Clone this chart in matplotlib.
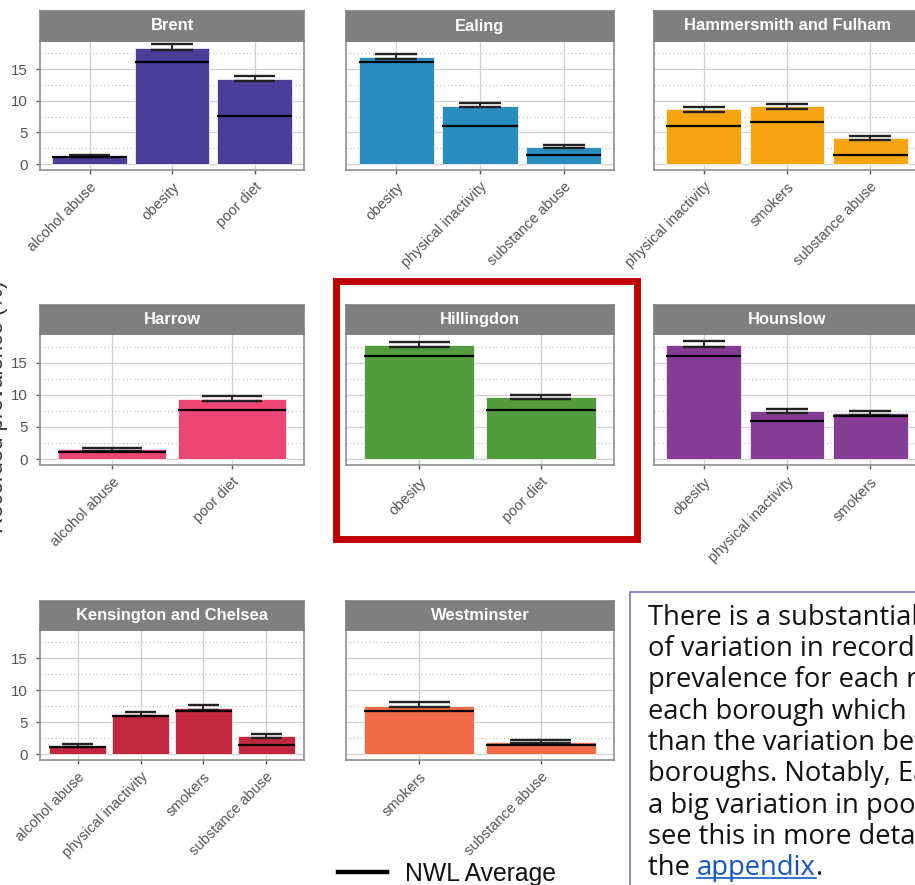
import matplotlib
matplotlib.use("Agg")
import matplotlib.pyplot as plt
from matplotlib.patches import Rectangle
from matplotlib.lines import Line2D

# ---- data: recorded prevalence (%) by borough and risk factor ----
boroughs = ["Brent", "Ealing", "Hammersmith and Fulham",
            "Harrow", "Hillingdon", "Hounslow",
            "Kensington and Chelsea", "Westminster"]

brent_factors = ["alcohol abuse", "obesity", "poor diet"]
brent_prev = [1.2, 18.4, 13.5]
brent_lo = [1.05, 18.1, 13.2]
brent_hi = [1.4, 18.9, 13.95]

ealing_factors = ["obesity", "physical inactivity", "substance abuse"]
ealing_prev = [16.95, 9.2, 2.77]
ealing_lo = [16.6, 8.95, 2.55]
ealing_hi = [17.45, 9.6, 2.95]

hamfu_factors = ["physical inactivity", "smokers", "substance abuse"]
hamfu_prev = [8.65, 9.2, 4.2]
hamfu_lo = [8.2, 8.75, 3.8]
hamfu_hi = [9.05, 9.55, 4.5]

harrow_factors = ["alcohol abuse", "poor diet"]
harrow_prev = [1.5, 9.4]
harrow_lo = [1.3, 9.0]
harrow_hi = [1.7, 9.75]

hillingdon_factors = ["obesity", "poor diet"]
hillingdon_prev = [17.7, 9.6]
hillingdon_lo = [17.4, 9.4]
hillingdon_hi = [18.2, 9.95]

hounslow_factors = ["obesity", "physical inactivity", "smokers"]
hounslow_prev = [17.75, 7.45, 7.1]
hounslow_lo = [17.4, 7.1, 6.8]
hounslow_hi = [18.3, 7.8, 7.5]

kenchel_factors = ["alcohol abuse", "physical inactivity", "smokers", "substance abuse"]
kenchel_prev = [1.26, 6.27, 7.3, 2.84]
kenchel_lo = [1.1, 5.95, 6.95, 2.5]
kenchel_hi = [1.5, 6.6, 7.7, 3.1]

westminster_factors = ["smokers", "substance abuse"]
westminster_prev = [7.6, 1.9]
westminster_lo = [7.35, 1.68]
westminster_hi = [8.15, 2.2]

# NWL average for each risk factor
nwl_factors = ["alcohol abuse", "obesity", "poor diet",
               "physical inactivity", "smokers", "substance abuse"]
nwl_avg = [1.05, 16.1, 7.6, 5.95, 6.72, 1.45]

y_ticks = [0, 5, 10, 15]

borough_colors = ["#4A3E98", "#2A8DC0", "#F6A410", "#EE4677",
                  "#529B3E", "#843C95", "#C1283F", "#F16B46"]

panels = [
    (brent_factors, brent_prev, brent_lo, brent_hi),
    (ealing_factors, ealing_prev, ealing_lo, ealing_hi),
    (hamfu_factors, hamfu_prev, hamfu_lo, hamfu_hi),
    (harrow_factors, harrow_prev, harrow_lo, harrow_hi),
    (hillingdon_factors, hillingdon_prev, hillingdon_lo, hillingdon_hi),
    (hounslow_factors, hounslow_prev, hounslow_lo, hounslow_hi),
    (kenchel_factors, kenchel_prev, kenchel_lo, kenchel_hi),
    (westminster_factors, westminster_prev, westminster_lo, westminster_hi),
]
nwl_lookup = dict(zip(nwl_factors, nwl_avg))

# ---- layout (pixels) ----
W, H = 915, 885
plt.rcParams["font.family"] = ["Liberation Sans", "DejaVu Sans"]
fig = plt.figure(figsize=(W / 100, H / 100), dpi=100)


def fbox(x0, y0, x1, y1):
    return [x0 / W, 1 - y1 / H, (x1 - x0) / W, (y1 - y0) / H]


col_x = [(40, 304), (346, 614), (654, 920)]
row_y = [(11, 41, 170), (305, 334, 465), (601, 630, 760)]

tick_grey = "#555555"
border_grey = "#8F8F8F"
strip_grey = "#7F7F7F"

for i, (name, (facs, prev, lo, hi)) in enumerate(zip(boroughs, panels)):
    r, c = divmod(i, 3)
    x0, x1 = col_x[c]
    st, pt, pb = row_y[r]

    ax = fig.add_axes(fbox(x0, pt, x1, pb))
    n = len(facs)
    xs = list(range(1, n + 1))

    ax.set_axisbelow(True)
    ax.bar(xs, prev, width=0.9, color=borough_colors[i],
           edgecolor="#FFFFFF", linewidth=0.5, zorder=2)
    ax.vlines(xs, lo, hi, color="#1A1A1A", lw=1.3, zorder=3)
    ax.hlines(lo, [x - 0.25 for x in xs], [x + 0.25 for x in xs],
              color="#222222", lw=1.7, zorder=3)
    ax.hlines(hi, [x - 0.25 for x in xs], [x + 0.25 for x in xs],
              color="#222222", lw=1.7, zorder=3)
    avg = [nwl_lookup[f] for f in facs]
    ax.hlines(avg, [x - 0.45 for x in xs], [x + 0.45 for x in xs],
              color="black", lw=1.6, zorder=4)

    ax.set_xlim(0.4, n + 0.6)
    ax.set_ylim(-0.93, 19.45)

    ax.set_yticks(y_ticks)
    ax.set_yticks([2.5, 7.5, 12.5, 17.5], minor=True)
    ax.grid(which="major", color="#D0D0D0", lw=0.9)
    ax.grid(which="minor", axis="y", color="#C4C4C4", lw=0.9,
            linestyle=(0, (1, 2)))
    ax.tick_params(which="minor", length=0)

    ax.set_xticks(xs)
    ax.set_xticklabels(facs, rotation=45, ha="right", va="top",
                       rotation_mode="anchor", fontsize=10.5, color=tick_grey)
    ax.tick_params(axis="x", length=3, width=1, color=tick_grey, pad=4)
    if c == 0:
        ax.tick_params(axis="y", length=3, width=1, color=tick_grey, pad=6,
                       labelsize=10.8, labelcolor=tick_grey)
    else:
        ax.tick_params(axis="y", length=0, labelleft=False)

    for sp in ax.spines.values():
        sp.set_color(border_grey)
        sp.set_linewidth(1.2)

    # facet strip
    sx = fig.add_axes(fbox(x0, st, x1, pt))
    sx.set_facecolor(strip_grey)
    sx.set_xticks([])
    sx.set_yticks([])
    for sp in sx.spines.values():
        sp.set_color(strip_grey)
        sp.set_linewidth(1.2)
    sx.text(0.5, 0.5, name, transform=sx.transAxes, ha="center", va="center",
            color="white", fontsize=11.9, fontweight="bold")

# shared y-axis title (partly off the left edge)
fig.text(8 / W, 1 - 407 / H, "Recorded prevalence (%)", rotation=90,
         ha="right", va="center", fontsize=16, color="#333333")

# highlight around Hillingdon
fig.add_artist(Rectangle((335.5 / W, 1 - 538.5 / H), 301 / W, 258 / H,
                         transform=fig.transFigure, fill=False,
                         edgecolor="#C00000", linewidth=5.0))

# commentary box
note_font = ["Open Sans", "DejaVu Sans"]
note_size = 19.7
fig.add_artist(Rectangle((630 / W, -0.05), 400 / W, (1 - 592 / H) + 0.05,
                         transform=fig.transFigure, fill=False,
                         edgecolor="#6A6AC8", linewidth=1.1))
note_lines = ["There is a substantial amount",
              "of variation in recorded",
              "prevalence for each risk factor in",
              "each borough which is greater",
              "than the variation between",
              "boroughs. Notably, Ealing has",
              "a big variation in poor diet. We",
              "see this in more detail in"]
base0, step = 625, 31.25
for k, line in enumerate(note_lines):
    fig.text(648 / W, 1 - (base0 + k * step) / H, line, ha="left",
             va="baseline", fontsize=note_size, color="#111111",
             family=note_font)

renderer = fig.canvas.get_renderer()
yb = 1 - (base0 + 8 * step) / H
t1 = fig.text(648 / W, yb, "the ", ha="left", va="baseline",
              fontsize=note_size, color="#111111", family=note_font)
bb1 = t1.get_window_extent(renderer)
t2 = fig.text(bb1.x1 / W, yb, "appendix", ha="left", va="baseline",
              fontsize=note_size, color="#1155CC", family=note_font)
bb2 = t2.get_window_extent(renderer)
fig.add_artist(Line2D([bb2.x0 / W, bb2.x1 / W], [yb - 3 / H, yb - 3 / H],
                      transform=fig.transFigure, color="#1155CC", lw=1.2))
fig.text(bb2.x1 / W, yb, ".", ha="left", va="baseline",
         fontsize=note_size, color="#111111", family=note_font)

# legend for the NWL average line
fig.legend(handles=[Line2D([], [], color="black", lw=3.2)],
           labels=["NWL Average"], loc="center left",
           bbox_to_anchor=(338 / W, 1 - 874 / H), frameon=False,
           fontsize=17.8, handlelength=2.0, handletextpad=0.7,
           borderpad=0, borderaxespad=0, labelcolor="#111111")

fig.savefig("out.png", dpi=100)
